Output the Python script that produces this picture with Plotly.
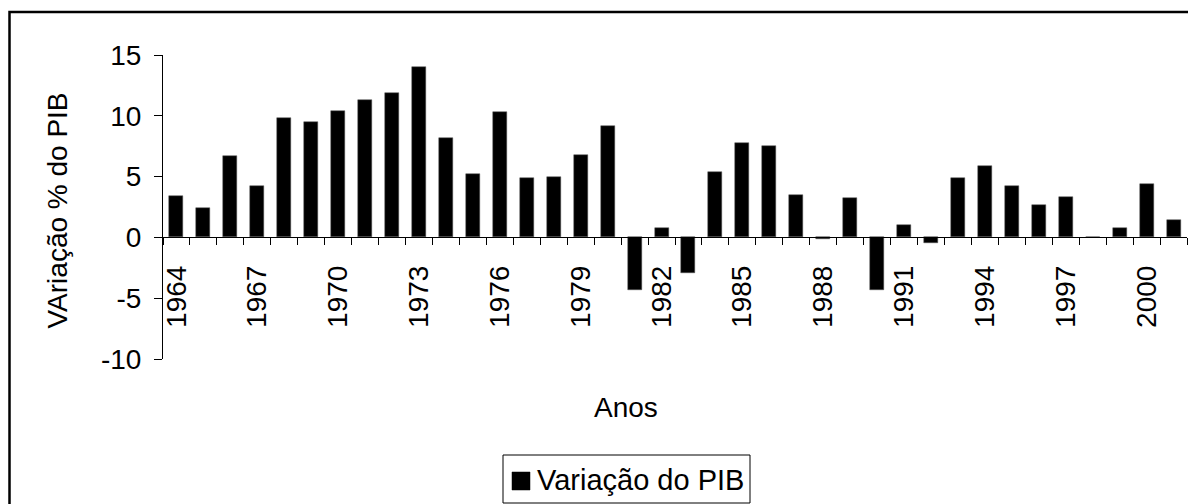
import plotly.graph_objects as go

years = list(range(1964, 2002))
pib_var = [3.4, 2.4, 6.7, 4.2, 9.8, 9.5, 10.4, 11.3, 11.9, 14.0,
           8.2, 5.2, 10.3, 4.9, 5.0, 6.8, 9.2, -4.3, 0.8, -2.9,
           5.4, 7.8, 7.5, 3.5, -0.1, 3.2, -4.3, 1.0, -0.5, 4.9,
           5.9, 4.2, 2.7, 3.3, 0.0, 0.8, 4.4, 1.4]
label_years = list(range(1964, 2001, 3))
y_ticks = [-10, -5, 0, 5, 10, 15]
y_tick_text = ["-10", "-5", "0", "5", "10", "15"]
series_name = "Variação do PIB"

FONT = "Arial, Liberation Sans, sans-serif"
FS = 28
OFF = 8  # default page body margin
W, H = 1188, 496
# plot area in page pixels: x 163..1187, y 55..359
L, R, T, B = 163 - OFF, W - (1187 - OFF), 55 - OFF, H - (359 - OFF)
PW, PH = W - L - R, H - T - B

def px_x(x):
    return (x - OFF - L) / PW

def px_y(y):
    return (H - B - (y - OFF)) / PH

fig = go.Figure()
fig.add_trace(go.Bar(
    x=years, y=pib_var, width=0.52,
    marker=dict(color="black", line=dict(color="#555", width=0.5)),
    name=series_name, showlegend=False,
))

y_min, y_max = -10, 15
zero_pos = (0 - y_min) / (y_max - y_min)

fig.update_layout(
    width=W, height=H,
    margin=dict(l=L, r=R, t=T, b=B, autoexpand=False),
    plot_bgcolor="white", paper_bgcolor="white",
    font=dict(family=FONT, size=FS, color="black"),
    bargap=0,
    showlegend=False,
    xaxis=dict(
        type="linear", range=[1963.5, 2001.5],
        anchor="free", position=zero_pos,
        showline=True, linecolor="black", linewidth=1,
        showgrid=False, zeroline=False,
        tickmode="array", tickvals=label_years,
        ticktext=[str(v) for v in label_years],
        tickangle=-90, ticks="outside", ticklen=7,
        tickcolor="rgba(0,0,0,0)",
        ticklabelstandoff=9,
        minor=dict(tick0=1963.5, dtick=1, ticks="outside", ticklen=7,
                   tickcolor="black", tickwidth=1, showgrid=False),
        tickfont=dict(family=FONT, size=FS, color="black"),
        automargin=False,
    ),
    yaxis=dict(
        range=[y_min, y_max],
        tickmode="array", tickvals=y_ticks, ticktext=y_tick_text,
        showline=True, linecolor="black", linewidth=1,
        showgrid=False, zeroline=False,
        ticks="outside", ticklen=8, tickcolor="black",
        ticklabelstandoff=7,
        tickfont=dict(family=FONT, size=FS, color="black"),
        automargin=False,
    ),
    annotations=[
        dict(text="VAriação % do PIB", xref="paper", yref="paper",
             x=px_x(57.5), y=px_y(211), textangle=-90,
             showarrow=False, xanchor="center", yanchor="middle",
             font=dict(family=FONT, size=FS, color="black")),
        dict(text="Anos", xref="paper", yref="paper",
             x=px_x(626), y=px_y(407),
             showarrow=False, xanchor="center", yanchor="middle",
             font=dict(family=FONT, size=FS, color="black")),
        dict(text=series_name, xref="paper", yref="paper",
             x=px_x(535), y=px_y(480),
             showarrow=False, xanchor="left", yanchor="middle",
             font=dict(family=FONT, size=29, color="black")),
    ],
    shapes=[
        dict(type="rect", xref="paper", yref="paper",
             x0=px_x(9.5), x1=px_x(1240), y0=px_y(12), y1=px_y(540),
             line=dict(color="black", width=2.5), layer="below"),
        dict(type="rect", xref="paper", yref="paper",
             x0=px_x(503), x1=px_x(750), y0=px_y(455), y1=px_y(503),
             line=dict(color="black", width=1), fillcolor="white"),
        dict(type="rect", xref="paper", yref="paper",
             x0=px_x(512), x1=px_x(530), y0=px_y(472), y1=px_y(490),
             line=dict(color="black", width=0.5), fillcolor="black"),
    ],
)

fig.write_html("out.html")
